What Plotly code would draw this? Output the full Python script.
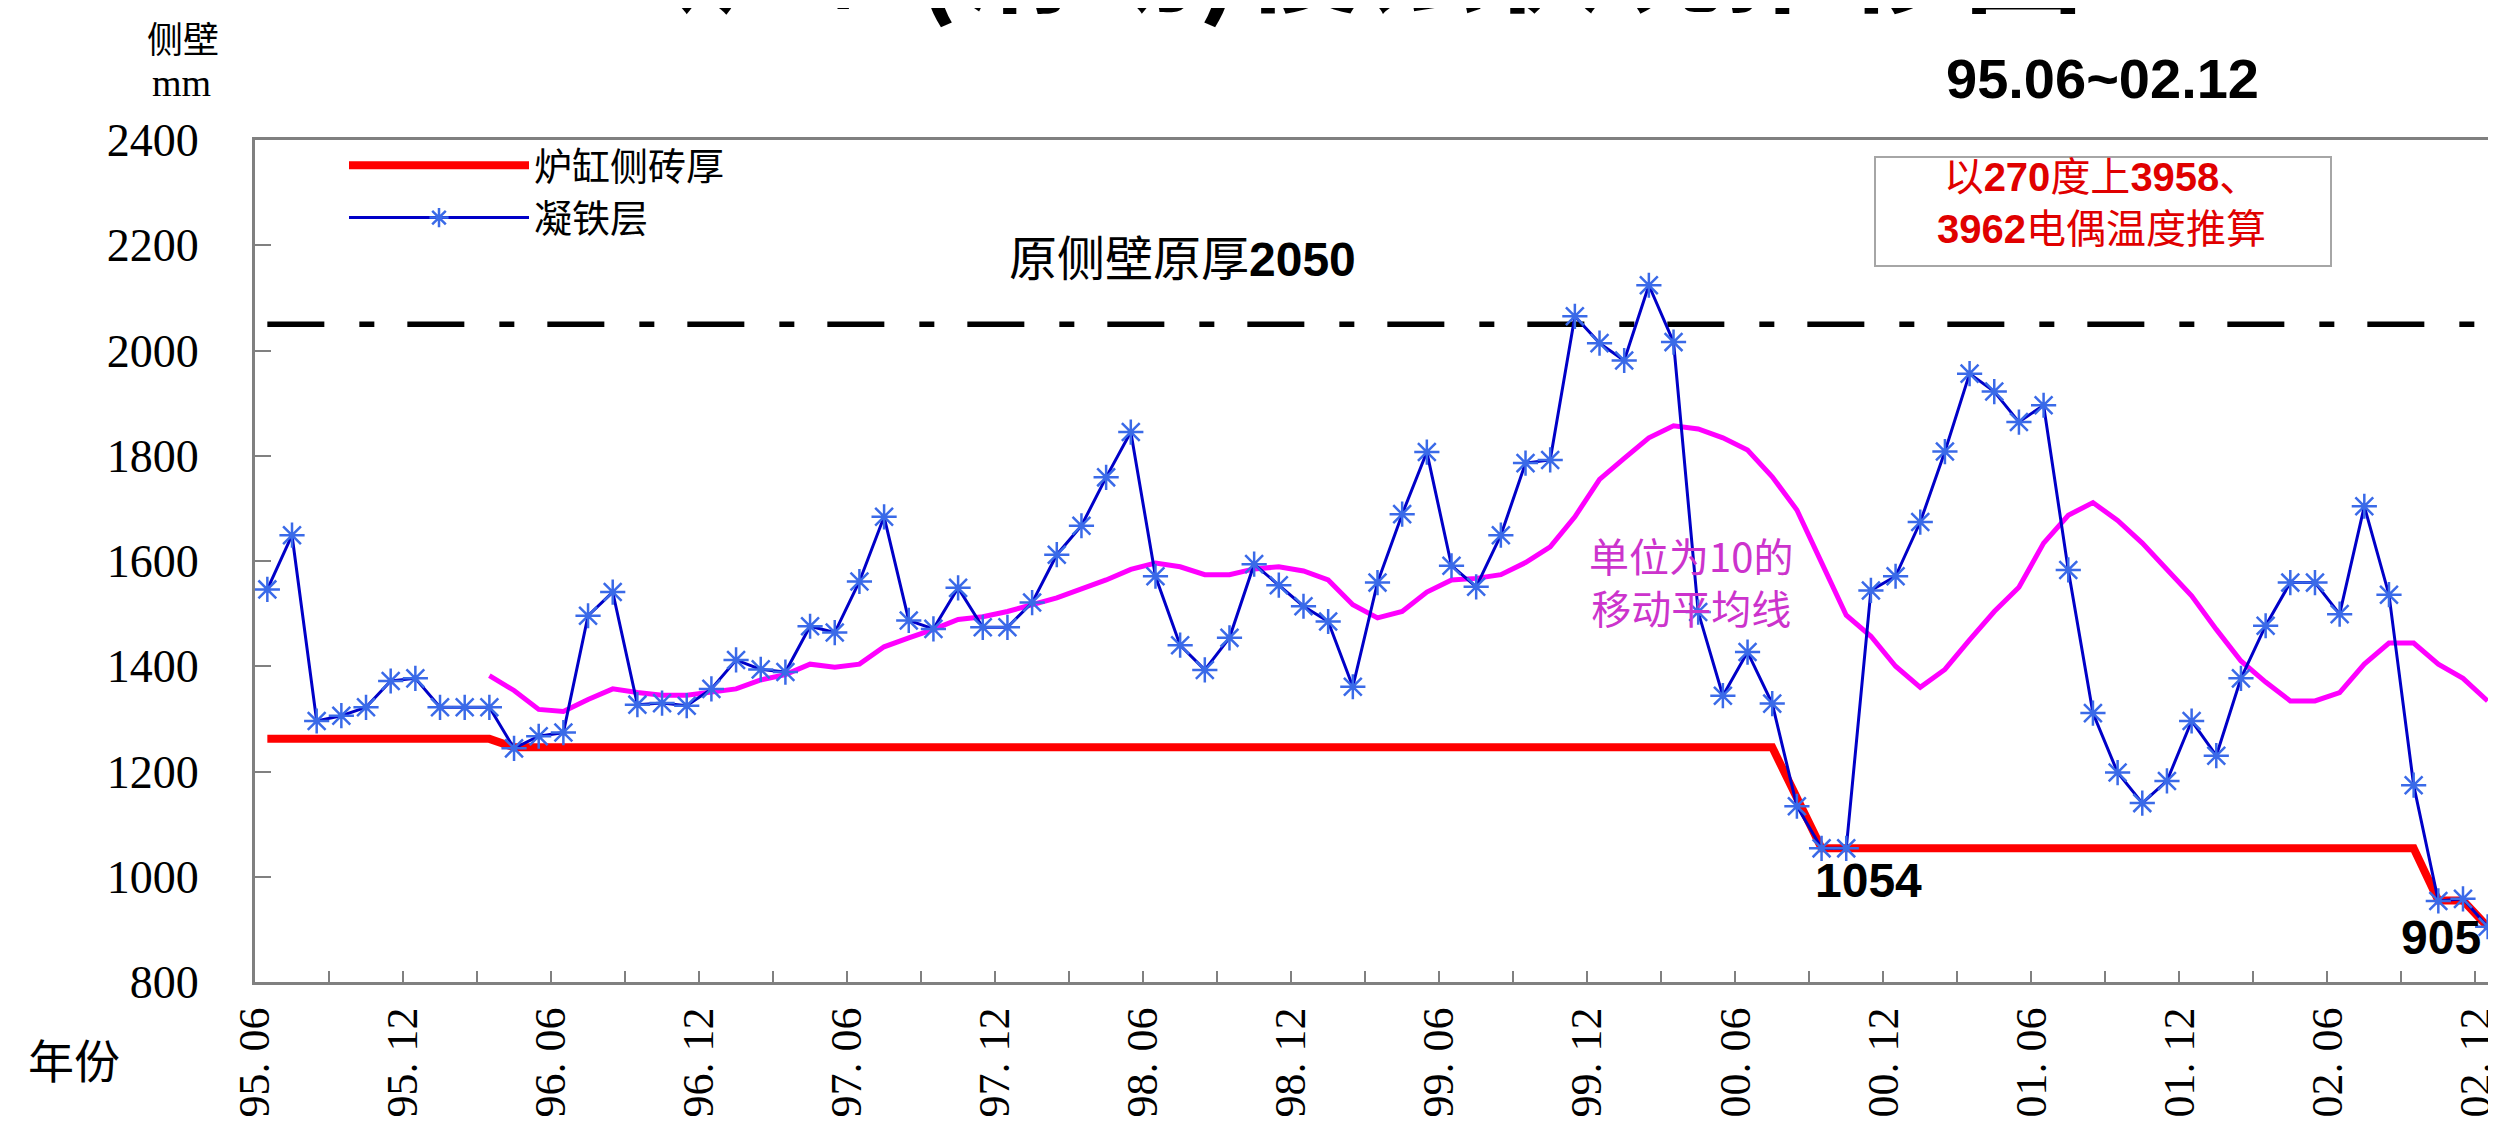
import plotly.graph_objects as go

# ---------------- data ----------------
TICK_LABELS = ["95. 06", "95. 12", "96. 06", "96. 12", "97. 06", "97. 12",
               "98. 06", "98. 12", "99. 06", "99. 12", "00. 06", "00. 12",
               "01. 06", "01. 12", "02. 06", "02. 12"]

# 凝铁层 monthly values 95.06 .. 02.12 (91 months)
IRON = [1546, 1649, 1296, 1306, 1322, 1372, 1377, 1322, 1322, 1322,
        1244, 1267, 1274, 1496, 1541, 1327, 1330, 1325, 1357, 1412,
        1394, 1389, 1476, 1464, 1561, 1684, 1487, 1471, 1549, 1474,
        1474, 1521, 1612, 1667, 1759, 1845, 1571, 1440, 1393, 1454,
        1594, 1554, 1514, 1485, 1361, 1559, 1689, 1807, 1591, 1551,
        1649, 1786, 1792, 2065, 2014, 1981, 2124, 2016, 1503, 1344,
        1427, 1329, 1134, 1054, 1054, 1544, 1571, 1674, 1808, 1956,
        1922, 1864, 1896, 1583, 1311, 1198, 1140, 1182, 1296, 1230,
        1377, 1477, 1559, 1559, 1499, 1704, 1536, 1174, 954, 958,
        905]

# 单位为10的移动平均线 (starts at the 10th month)
MA_START = 9
MA10 = [1382, 1354, 1318, 1314, 1337, 1357, 1350, 1345, 1345, 1352,
        1357, 1374, 1384, 1404, 1398, 1404, 1437, 1454, 1470, 1489,
        1494, 1504, 1517, 1530, 1547, 1564, 1584, 1596, 1589, 1574,
        1574, 1585, 1589, 1581, 1564, 1517, 1492, 1504, 1541, 1564,
        1567, 1574, 1597, 1627, 1684, 1755, 1795, 1834, 1857, 1851,
        1834, 1811, 1760, 1697, 1597, 1497, 1457, 1400, 1360, 1394,
        1450, 1504, 1550, 1634, 1687, 1711, 1677, 1634, 1584, 1534,
        1470, 1410, 1370, 1334, 1334, 1350, 1404, 1444, 1444, 1404,
        1377, 1334]

# 炉缸侧砖厚 (vertices of the step line, month index -> thickness)
BRICK_IDX = [0, 9, 10, 61, 63, 87, 88, 89, 90]
BRICK = [1262, 1262, 1246, 1246, 1054, 1054, 955, 955, 905]

ORIGINAL = 2050
Y_MIN, Y_MAX, Y_STEP = 800, 2400, 200

# ---------------- layout helpers ----------------
W, H = 2496, 1124
L, R, T, B = 247, 4, 132, 150
PW, PH = W - L - R, H - T - B


def px(x):
    return (x - L) / PW


def py(y):
    return 1 - (y - T) / PH


CJK = "Noto Sans CJK SC"
SERIF = "Liberation Serif"
ARIAL = "Liberation Sans"

n = len(IRON)
x_iron = list(range(n))
x_ma = list(range(MA_START, MA_START + len(MA10)))

fig = go.Figure()

fig.add_trace(go.Scatter(
    x=[0, n - 1], y=[ORIGINAL, ORIGINAL], mode="lines",
    line=dict(color="black", width=5.5, dash="57px,35px,15px,33px"),
    showlegend=False, hoverinfo="skip"))

fig.add_trace(go.Scatter(
    x=BRICK_IDX, y=BRICK, mode="lines", name="炉缸侧砖厚",
    line=dict(color="#ff0000", width=8)))

fig.add_trace(go.Scatter(
    x=x_ma, y=MA10, mode="lines", name="单位为10的移动平均线",
    line=dict(color="#ff00ff", width=5), showlegend=False))

fig.add_trace(go.Scatter(
    x=x_iron, y=IRON, mode="lines+markers", name="凝铁层",
    line=dict(color="#0000c8", width=3),
    marker=dict(symbol="asterisk-open", size=21,
                line=dict(color="#3a6ae8", width=2.5), color="#3a6ae8")))

tickvals = [-0.5 + 3 * k for k in range(31)]
ticktext = [TICK_LABELS[k // 2] if k % 2 == 0 else "" for k in range(31)]

fig.update_xaxes(
    range=[-0.5, n - 0.5], tickmode="array", tickvals=tickvals, ticktext=ticktext,
    tickangle=-90, ticks="inside", ticklen=11, tickwidth=1.5, tickcolor="#808080",
    showline=True, linecolor="#808080", linewidth=3, mirror=True,
    showgrid=False, zeroline=False, ticklabelstandoff=5,
    tickfont=dict(family=SERIF, size=44, color="black"))

fig.update_yaxes(
    range=[Y_MIN, Y_MAX], tick0=Y_MIN, dtick=Y_STEP, ticks="inside", ticklen=16,
    tickwidth=1.5, tickcolor="#808080",
    showline=True, linecolor="#808080", linewidth=3, mirror=True,
    showgrid=False, zeroline=False, ticklabelstandoff=44,
    tickfont=dict(family=SERIF, size=46, color="black"))

ann = []


def add(text, x, y, size, color="black", family=CJK, xanchor="center",
        yanchor="middle", shift=0.28):
    # shift compensates the visual centre of the glyphs vs. the text box
    ann.append(dict(text=text, x=px(x), y=py(y - shift * size), xref="paper", yref="paper",
                    showarrow=False, xanchor=xanchor, yanchor=yanchor, align="center",
                    font=dict(family=family, size=size, color=color)))


NUM = '<span style="font-family:Liberation Sans"><b>%s</b></span>'

add("<b>2BF炉缸(滑动)侵蚀状况推移图</b>", 440, 32, 120, xanchor="left", yanchor="bottom", shift=0)
add("侧壁", 175, 1, 36, yanchor="top", shift=0)
add("mm", 173, 84, 38, family=SERIF, shift=0.25)
add("<b>95.06~02.12</b>", 2094, 81, 56, family=ARIAL, shift=0.18)
add("年份", 66, 1063, 46)
add("原侧壁原厚" + NUM % "2050", 1174, 260, 48)
add("以" + NUM % "270" + "度上" + NUM % "3958" + "、<br>" + NUM % "3962" + "电偶温度推算",
    2093, 203, 40, color="#e00000")
add("单位为10的<br>移动平均线", 1683, 584, 40, color="#cc33cc")
add("<b>1054</b>", 1860, 882, 48, family=ARIAL, shift=0.2)
add("<b>905</b>", 2433, 939, 48, family=ARIAL, shift=0.2)

fig.update_layout(
    width=W, height=H,
    margin=dict(l=L, r=R, t=T, b=B, pad=0, autoexpand=False),
    paper_bgcolor="white", plot_bgcolor="white",
    annotations=ann,
    shapes=[dict(type="rect", xref="paper", yref="paper",
                 x0=px(1867), x1=px(2323), y0=py(258), y1=py(149),
                 line=dict(color="#a6a6a6", width=2), fillcolor="white", layer="above")],
    legend=dict(x=px(336), y=py(126), xanchor="left", yanchor="top",
                bgcolor="rgba(0,0,0,0)", itemwidth=180, tracegroupgap=0,
                font=dict(family=CJK, size=38, color="black")),
    showlegend=True,
)

fig.write_html("out.html")
